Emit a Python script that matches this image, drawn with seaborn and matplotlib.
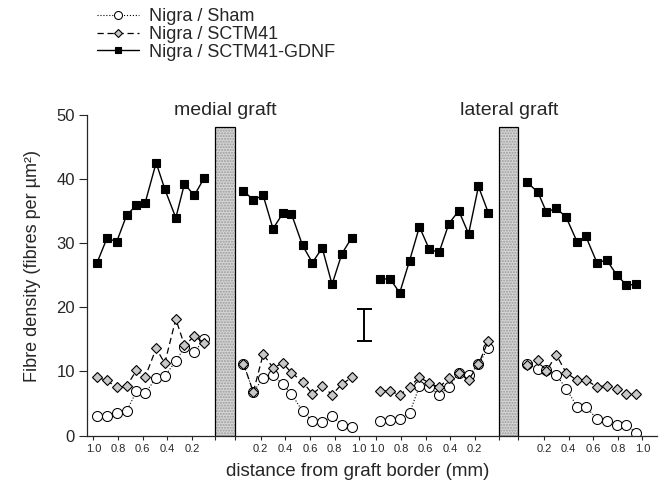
import numpy as np
import pandas as pd
import matplotlib
matplotlib.use("Agg")
import matplotlib.pyplot as plt
from matplotlib.lines import Line2D
import seaborn as sns

groups = ["Nigra / Sham", "Nigra / SCTM41", "Nigra / SCTM41-GDNF"]
segments = ["medial_out", "medial_in", "lateral_out", "lateral_in"]

# distance from graft border (mm) of each bin
dist_medial_out = [0.97, 0.89, 0.81, 0.73, 0.65, 0.58, 0.49, 0.42, 0.33, 0.26, 0.18, 0.10]
dist_medial_in = [0.06, 0.14, 0.22, 0.30, 0.38, 0.45, 0.54, 0.62, 0.70, 0.78, 0.86, 0.94]
dist_lateral_out = [0.97, 0.89, 0.81, 0.73, 0.65, 0.57, 0.49, 0.41, 0.33, 0.25, 0.17, 0.09]
dist_lateral_in = [0.06, 0.15, 0.22, 0.30, 0.38, 0.47, 0.54, 0.63, 0.71, 0.79, 0.87, 0.95]

sham_medial_out = [3.1, 3.1, 3.5, 3.8, 6.9, 6.6, 9.0, 9.3, 11.6, 13.8, 13.0, 15.0]
sham_medial_in = [11.2, 6.8, 9.0, 9.4, 8.0, 6.5, 3.8, 2.3, 2.1, 3.0, 1.7, 1.4]
sham_lateral_out = [2.2, 2.5, 2.6, 3.5, 7.7, 7.6, 6.4, 7.6, 9.7, 9.4, 11.1, 13.7]
sham_lateral_in = [11.2, 10.4, 10.2, 9.5, 7.3, 4.5, 4.5, 2.6, 2.3, 1.6, 1.6, 0.4]

sctm_medial_out = [9.1, 8.6, 7.5, 7.7, 10.2, 9.1, 13.6, 11.3, 18.2, 14.1, 15.5, 14.5]
sctm_medial_in = [11.2, 6.8, 12.7, 10.6, 11.3, 9.8, 8.4, 6.5, 7.7, 6.4, 8.0, 9.1]
sctm_lateral_out = [6.9, 7.0, 6.3, 7.6, 9.1, 8.2, 7.5, 9.0, 9.8, 8.7, 11.1, 14.8]
sctm_lateral_in = [11.0, 11.8, 10.1, 12.6, 9.8, 8.6, 8.7, 7.6, 7.8, 7.3, 6.5, 6.5]

gdnf_medial_out = [27.0, 30.8, 30.3, 34.4, 36.0, 36.3, 42.6, 38.5, 34.0, 39.3, 37.5, 40.2]
gdnf_medial_in = [38.2, 36.8, 37.5, 32.3, 34.7, 34.6, 29.7, 27.0, 29.3, 23.6, 28.4, 30.9]
gdnf_lateral_out = [24.4, 24.5, 22.3, 27.3, 32.6, 29.1, 28.6, 33.1, 35.1, 31.5, 38.9, 34.8]
gdnf_lateral_in = [39.6, 38.0, 34.9, 35.5, 34.1, 30.2, 31.1, 27.0, 27.4, 25.1, 23.5, 23.6]

graft_height = 48.2
err_low, err_high = 14.8, 19.7
tick_dist = [0.2, 0.4, 0.6, 0.8, 1.0]

# layout of the broken x axis: position = offset + sign * distance
seg_offset = {"medial_out": (0.0, -1), "medial_in": (0.16, 1),
              "lateral_out": (2.30, -1), "lateral_in": (2.463, 1)}
grafts = {"medial graft": (-0.01, 0.16), "lateral graft": (2.30, 0.155)}

dists = {"medial_out": dist_medial_out, "medial_in": dist_medial_in,
         "lateral_out": dist_lateral_out, "lateral_in": dist_lateral_in}
values = {
    "Nigra / Sham": [sham_medial_out, sham_medial_in, sham_lateral_out, sham_lateral_in],
    "Nigra / SCTM41": [sctm_medial_out, sctm_medial_in, sctm_lateral_out, sctm_lateral_in],
    "Nigra / SCTM41-GDNF": [gdnf_medial_out, gdnf_medial_in, gdnf_lateral_out, gdnf_lateral_in],
}

rows = []
for g in groups:
    for seg, vals in zip(segments, values[g]):
        off, sign = seg_offset[seg]
        for d, v in zip(dists[seg], vals):
            rows.append({"group": g, "segment": seg, "pos": off + sign * d, "density": v})
df = pd.DataFrame(rows)

sns.set_style("ticks")
plt.rcParams["font.family"] = ["Liberation Sans", "DejaVu Sans"]

fig = plt.figure(figsize=(6.61, 4.91), dpi=100)
ax = fig.add_axes([0.132, 0.113, 0.8615, 0.652])

styles = {
    "Nigra / Sham": dict(linestyle=":", linewidth=0.8, marker="o", markersize=7.2,
                         markerfacecolor="white", markeredgecolor="black", markeredgewidth=0.75),
    "Nigra / SCTM41": dict(linestyle=(0, (5, 3)), linewidth=0.9, marker="D", markersize=5.3,
                           markerfacecolor="#c8c8c8", markeredgecolor="black", markeredgewidth=0.8),
    "Nigra / SCTM41-GDNF": dict(linestyle="-", linewidth=1.0, marker="s", markersize=5.4,
                                markerfacecolor="black", markeredgecolor="black", markeredgewidth=0.8),
}

for g in groups:
    sns.lineplot(data=df[df.group == g], x="pos", y="density", units="segment",
                 estimator=None, sort=False, color="black", ax=ax, **styles[g])

# graft blocks
for name, (x0, w) in grafts.items():
    ax.bar([x0], [graft_height], width=w, align="edge", color="#d6d6d6",
           hatch="......", edgecolor="#9a9a9a", linewidth=0, zorder=1)
    ax.bar([x0], [graft_height], width=w, align="edge", fill=False,
           edgecolor="black", linewidth=0.9, zorder=2)
    ax.text(x0 + w / 2, 50.0, name, ha="center", va="baseline", fontsize=14)

# representative error bar
ax.errorbar([1.2], [(err_low + err_high) / 2], yerr=[(err_high - err_low) / 2],
            color="black", linewidth=1.4, capsize=5.4, capthick=1.4)

ticks, labels = [], []
for seg in segments:
    off, sign = seg_offset[seg]
    for d in tick_dist:
        ticks.append(off + sign * d)
        labels.append(f"{d:.1f}")
for x0, w in grafts.values():
    ticks += [x0, x0 + w]
    labels += ["", ""]
ax.set_xticks(ticks)
ax.set_xticklabels(labels, fontsize=8)
ax.set_xlim(-1.05, 3.579)
ax.set_ylim(0, 50)
ax.set_yticks([0, 10, 20, 30, 40, 50])
ax.tick_params(axis="y", labelsize=12, length=6, width=0.8, pad=3)
ax.tick_params(axis="x", length=3, width=0.8, pad=3)
for s in ["left", "bottom"]:
    ax.spines[s].set_linewidth(0.9)
sns.despine(ax=ax)

ax.set_ylabel("Fibre density (fibres per µm²)", fontsize=13)
ax.yaxis.set_label_coords(-0.082, 0.53)
ax.set_xlabel("distance from graft border (mm)", fontsize=13.5)
ax.xaxis.set_label_coords(0.475, -0.085)

handles = [Line2D([], [], color="black", **styles[g]) for g in groups]
fig.legend(handles, groups, loc="upper left", bbox_to_anchor=(0.147, 0.983),
           frameon=False, fontsize=13, handlelength=2.3, handletextpad=0.55,
           labelspacing=0.04, borderpad=0, borderaxespad=0, markerscale=0.8)

fig.savefig("out.png", dpi=100)
